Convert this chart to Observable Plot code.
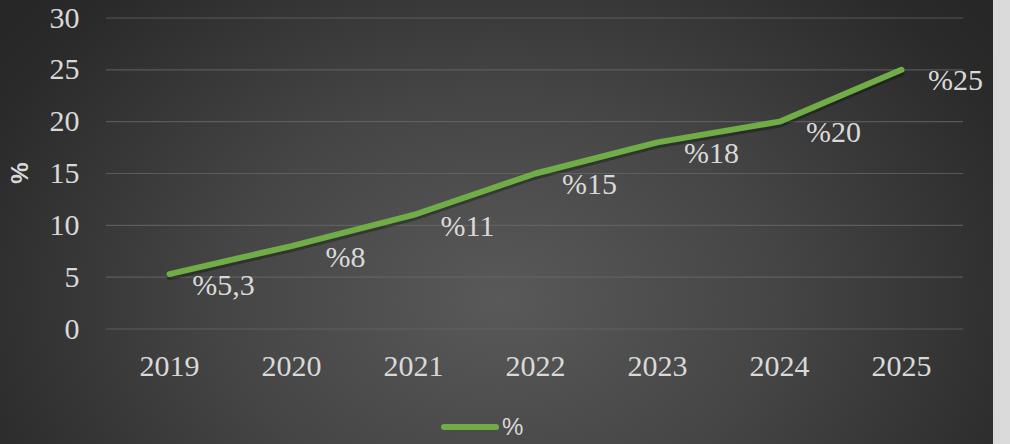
<!DOCTYPE html>
<html>
<head>
<meta charset="utf-8">
<script src="https://cdn.jsdelivr.net/npm/d3@7"></script>
<script src="https://cdn.jsdelivr.net/npm/@observablehq/plot@0.6"></script>
<style>
  html, body { margin: 0; padding: 0; background: #dadada; }
  #chart {
    position: relative;
    width: 993px;
    height: 444px;
    overflow: hidden;
    background: radial-gradient(ellipse 620px 460px at 500px 300px, #595959 0%, #454545 45%, #2a2a2a 90%, #272727 100%);
  }
  #chart svg, #chart svg text { font-family: "Liberation Serif", "DejaVu Serif", serif !important; }
  #ytitle {
    position: absolute;
    left: 20px;
    top: 173px;
    transform: translate(-50%, -50%) rotate(-90deg);
    font-family: "Liberation Sans", sans-serif;
    font-weight: bold;
    font-size: 24px;
    color: #d9d9d9;
    line-height: 1;
  }
  #legend { position: relative; height: 44px; }
  #legend .swatch {
    position: absolute; left: 441px; top: 24px; width: 58px; height: 6px;
    border-radius: 3px; background: #70ad47;
  }
  #legend .lab {
    position: absolute; left: 502px; top: 14px;
    font-family: "Liberation Sans", sans-serif; font-size: 24px; line-height: 26px;
    color: #d9d9d9;
  }
</style>
</head>
<body>
<div id="chart"></div>
<script>
const years = ["2019", "2020", "2021", "2022", "2023", "2024", "2025"];
const values = [5.3, 8, 11, 15, 18, 20, 25];
const labels = ["%5,3", "%8", "%11", "%15", "%18", "%20", "%25"];
const yTicks = [0, 5, 10, 15, 20, 25, 30];
const seriesName = "%";
const axisTitle = "%";

const data = years.map((y, i) => ({year: y, value: values[i], label: labels[i]}));
const serif = "'Liberation Serif', 'DejaVu Serif', serif";

const plot = Plot.plot({
  width: 993,
  height: 400,
  marginLeft: 106,
  marginRight: 30,
  marginTop: 17.5,
  marginBottom: 71.5,
  style: {
    background: "transparent",
    fontSize: "30px",
    color: "#d9d9d9"
  },
  x: {type: "point", domain: years, padding: 0.5},
  y: {domain: [0, 30]},
  marks: [
    Plot.gridY(yTicks, {stroke: "#6a6a6a", strokeOpacity: 0.7, strokeWidth: 1.2}),
    Plot.axisY(yTicks, {tickSize: 0, tickPadding: 27, label: null, fontSize: 30}),
    Plot.axisX({tickSize: 0, tickPadding: 26, label: null, fontSize: 30}),
    Plot.line(data, {x: "year", y: "value", stroke: "#000", strokeOpacity: 0.3, strokeWidth: 6, dy: 3, strokeLinecap: "round", strokeLinejoin: "round"}),
    Plot.line(data, {x: "year", y: "value", stroke: "#70ad47", strokeWidth: 6, strokeLinecap: "round", strokeLinejoin: "round"}),
    Plot.text(data, {x: "year", y: "value", text: "label", dx: 54, dy: 11, fill: "#d9d9d9", fontSize: 30, textAnchor: "middle"})
  ]
});

const chart = document.getElementById("chart");
chart.appendChild(plot);
plot.querySelectorAll("text").forEach(t => { t.style.fontFamily = serif; });
plot.style.fontFamily = serif;

const yt = document.createElement("div");
yt.id = "ytitle";
yt.textContent = axisTitle;
chart.appendChild(yt);

const legend = document.createElement("div");
legend.id = "legend";
legend.innerHTML = `<div class="swatch"></div><div class="lab"></div>`;
legend.querySelector(".lab").textContent = seriesName;
chart.appendChild(legend);
</script>
</body>
</html>
